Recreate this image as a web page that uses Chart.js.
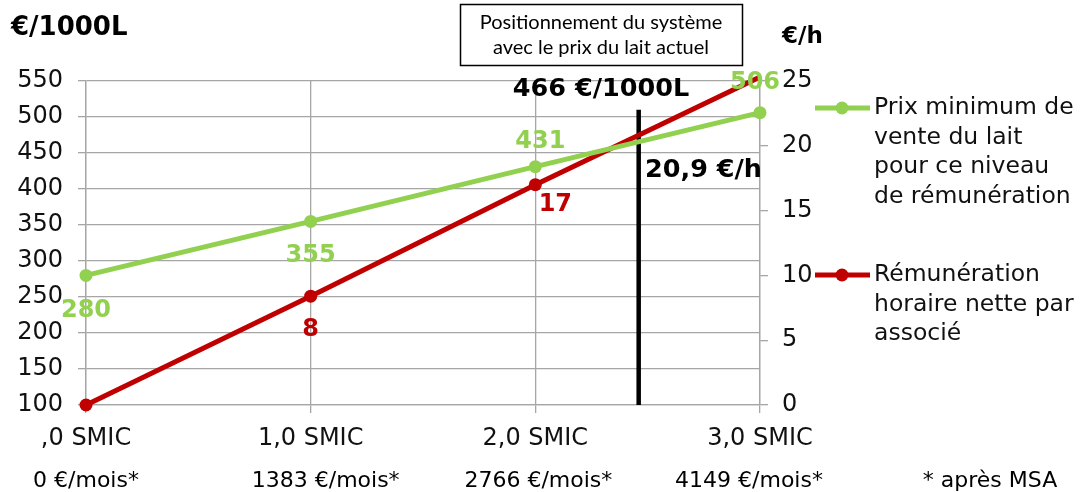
<!doctype html>
<html>
<head>
<meta http-equiv="Content-Type" content="text/html;charset=utf-8" />
<title>Prix du lait et rémunération</title>
<script src="https://cdn.jsdelivr.net/npm/chart.js@4.4.1/dist/chart.umd.min.js"></script>
<style>
html, body { margin: 0; padding: 0; background: #fff; }
#wrap { width: 1081px; height: 492px; position: relative; }
</style>
</head>
<body>
<div id="wrap"><canvas id="myChart"></canvas></div>

<script>
// categories and values
var categories = [',0 SMIC', '1,0 SMIC', '2,0 SMIC', '3,0 SMIC'];
var monthly = ['0 €/mois*', '1383 €/mois*', '2766 €/mois*', '4149 €/mois*'];
var prixLait = [280, 355, 431, 506];          // €/1000L, left axis
var remuneration = [0, 8.4, 17, 25.3];         // €/h, right axis
var remuLabels = ['', '8', '17', ''];
var currentPos = 2.46;                         // position of the black line (in categories)
var currentTop = 510;                          // top of the black line (left axis)
var currentPrice = '466 €/1000L';
var currentWage = '20,9 €/h';

var GREEN = '#92D050';
var RED = '#C00000';
var GRID = '#a6a6a6';
var FONT = '"DejaVu Sans", Verdana, sans-serif';

var extras = {
  id: 'extras',
  beforeDatasetsDraw: function(chart) {
    var ctx = chart.ctx, x = chart.scales.x, y = chart.scales.y;
    var x2 = x.getPixelForValue(2), x3 = x.getPixelForValue(3);
    var px = x2 + (currentPos - 2) * (x3 - x2);
    ctx.save();
    ctx.strokeStyle = '#000';
    ctx.lineWidth = 4.5;
    ctx.beginPath();
    ctx.moveTo(px, y.getPixelForValue(100));
    ctx.lineTo(px, y.getPixelForValue(currentTop));
    ctx.stroke();
    ctx.restore();
  },
  afterDatasetsDraw: function(chart) {
    var ctx = chart.ctx, x = chart.scales.x, y = chart.scales.y, y2 = chart.scales.y2;
    ctx.save();
    ctx.textAlign = 'center';
    ctx.textBaseline = 'middle';
    ctx.font = 'bold 24px ' + FONT;
    // green value labels
    var gOff = [[0, 35], [0, 34], [5, -25], [-5, -30]];
    ctx.fillStyle = GREEN;
    prixLait.forEach(function(v, i) {
      ctx.fillText(String(v), x.getPixelForValue(i) + gOff[i][0], y.getPixelForValue(v) + gOff[i][1]);
    });
    // red value labels
    var rOff = [[0, 0], [0, 34], [20, 20], [0, 0]];
    ctx.fillStyle = RED;
    remuneration.forEach(function(v, i) {
      if (!remuLabels[i]) return;
      ctx.fillText(remuLabels[i], x.getPixelForValue(i) + rOff[i][0], y2.getPixelForValue(v) + rOff[i][1]);
    });
    // current position labels
    ctx.fillStyle = '#000';
    ctx.font = 'bold 25.5px ' + FONT;
    ctx.fillText(currentPrice, 601, 89);
    ctx.textAlign = 'left';
    ctx.fillText(currentWage, 645, 170);
    ctx.restore();
  },
  afterDraw: function(chart) {
    var ctx = chart.ctx, x = chart.scales.x;
    ctx.save();
    ctx.fillStyle = '#000';
    ctx.textBaseline = 'middle';
    // axis titles
    ctx.font = 'bold 26px ' + FONT;
    ctx.textAlign = 'left';
    ctx.fillText('€/1000L', 11, 28);
    ctx.font = 'bold 23px ' + FONT;
    ctx.fillText('€/h', 782, 37);
    // box
    ctx.lineWidth = 1.5;
    ctx.strokeStyle = '#000';
    ctx.strokeRect(460.5, 4.5, 282, 61);
    ctx.textAlign = 'center';
    ctx.font = '20px Lato, "Open Sans", sans-serif';
    ctx.fillText('Positionnement du système', 601, 23);
    ctx.fillText('avec le prix du lait actuel', 601, 48);
    // second row below the x axis
    ctx.font = '22px ' + FONT;
    var mOff = [0, 15, 3, -11];
    monthly.forEach(function(t, i) {
      ctx.fillText(t, x.getPixelForValue(i) + mOff[i], 481);
    });
    ctx.fillText('* après MSA', 990, 481);
    // legend
    var items = [
      { color: GREEN, y: 108, lines: ['Prix minimum de', 'vente du lait', 'pour ce niveau', 'de rémunération'] },
      { color: RED, y: 275, lines: ['Rémunération', 'horaire nette par', 'associé'] }
    ];
    ctx.textAlign = 'left';
    ctx.font = '23.5px ' + FONT;
    items.forEach(function(it) {
      ctx.strokeStyle = it.color;
      ctx.fillStyle = it.color;
      ctx.lineWidth = 5;
      ctx.beginPath();
      ctx.moveTo(815, it.y);
      ctx.lineTo(870, it.y);
      ctx.stroke();
      ctx.beginPath();
      ctx.arc(842, it.y, 6.5, 0, Math.PI * 2);
      ctx.fill();
      ctx.fillStyle = '#111';
      it.lines.forEach(function(l, k) {
        ctx.fillText(l, 874, it.y + k * 29.5);
      });
    });
    ctx.restore();
  }
};

var ctx = document.getElementById('myChart').getContext('2d');
var chart = new Chart(ctx, {
  type: 'line',
  data: {
    labels: categories,
    datasets: [{
      label: 'Prix minimum de vente du lait pour ce niveau de rémunération',
      data: prixLait,
      yAxisID: 'y',
      borderColor: GREEN,
      backgroundColor: GREEN,
      borderWidth: 5,
      pointRadius: 6.5,
      pointBorderWidth: 0,
      pointHoverRadius: 6.5,
      clip: false
    }, {
      label: 'Rémunération horaire nette par associé',
      data: remuneration,
      yAxisID: 'y2',
      borderColor: RED,
      backgroundColor: RED,
      borderWidth: 5,
      pointRadius: [6.5, 6.5, 6.5, 0],
      pointBorderWidth: 0,
      pointHoverRadius: 6.5,
      clip: false
    }]
  },
  options: {
    responsive: true,
    maintainAspectRatio: false,
    animation: false,
    layout: { padding: { top: 81, left: 0, right: 0, bottom: 0 } },
    plugins: { legend: { display: false }, tooltip: { enabled: false } },
    scales: {
      x: {
        offset: false,
        grid: { color: GRID, lineWidth: 1.3, tickLength: 8, offset: false },
        border: { color: GRID, width: 1.3 },
        ticks: { color: '#111', font: { family: FONT, size: 24 }, padding: 11, maxRotation: 0, autoSkip: false },
        afterFit: function(s) { s.height = 87; }
      },
      y: {
        position: 'left',
        min: 100, max: 550,
        grid: { color: GRID, lineWidth: 1.3, tickLength: 8 },
        border: { color: GRID, width: 1.3 },
        ticks: { stepSize: 50, color: '#111', font: { family: FONT, size: 24 }, padding: 15 },
        afterFit: function(s) { s.width = 86; }
      },
      y2: {
        position: 'right',
        min: 0, max: 25,
        grid: { drawOnChartArea: false, color: GRID, lineWidth: 1.3, tickLength: 8 },
        border: { color: GRID, width: 1.3 },
        ticks: { stepSize: 5, color: '#111', font: { family: FONT, size: 24 }, padding: 14 },
        afterFit: function(s) { s.width = 321; }
      }
    }
  },
  plugins: [extras]
});
</script>
</body>
</html>
